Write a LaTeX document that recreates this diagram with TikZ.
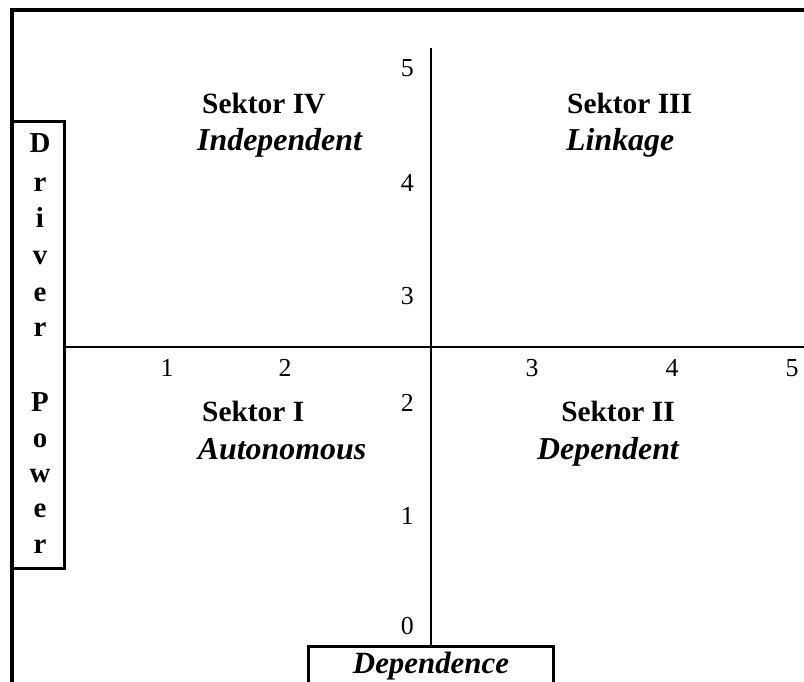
\documentclass[tikz,border=0pt]{standalone}
\usepackage{fontspec}
\setmainfont{Liberation Serif}
\begin{document}
\begin{tikzpicture}[x=1bp,y=-1bp,
  frame/.style={line width=3.5bp},
  axis/.style={line width=2bp},
  lab/.style={font=\fontsize{29.5}{34}\selectfont\bfseries, inner sep=0pt},
  ilab/.style={font=\fontsize{32}{36}\selectfont\bfseries\itshape, inner sep=0pt},
  num/.style={font=\fontsize{26}{30}\selectfont, inner sep=0pt},
  vl/.style={font=\fontsize{29}{30}\selectfont\bfseries, inner sep=0pt, anchor=base}
]
\useasboundingbox (0,0) rectangle (804,682);
\clip (0,0) rectangle (804,682);
% outer frame
\coordinate (ftl) at (12,10);
\coordinate (ftr) at (810,10);
\coordinate (fbl) at (12,690);
\draw[frame] (ftr) -- (ftl) -- (fbl);
% boxes
\node[draw, line width=3bp, minimum width=52bp, minimum height=446bp, inner sep=0pt] (dp) at (38,345) {};
\node[draw, line width=3bp, minimum width=245bp, minimum height=60bp, inner sep=0pt] (dep) at (430.5,676) {};
\node[ilab, anchor=base, font=\fontsize{31}{36}\selectfont\bfseries\itshape] (deptext) at (431,673.5) {Dependence};
% axes
\coordinate (vtop) at (431,48);
\coordinate (hright) at (810,347);
\draw[axis] (vtop) -- (dep.north -| vtop);
\draw[axis] (dp.east |- hright) -- (hright);
% vertical numbers
\node[num, anchor=base east] (y5) at (414,77) {5};
\node[num, anchor=base east] (y4) at (414,191) {4};
\node[num, anchor=base east] (y3) at (414,304) {3};
\node[num, anchor=base east] (y2) at (414,411) {2};
\node[num, anchor=base east] (y1) at (414,524) {1};
\node[num, anchor=base east] (y0) at (414,634) {0};
% horizontal numbers
\node[num, anchor=base] (x1) at (167,376) {1};
\node[num, anchor=base] (x2) at (285,376) {2};
\node[num, anchor=base] (x3) at (532,376) {3};
\node[num, anchor=base] (x4) at (672,376) {4};
\node[num, anchor=base] (x5) at (792,376) {5};
% sectors
\node[lab, anchor=base west] (s4) at (202,114) {Sektor IV};
\node[ilab, anchor=base west] (s4b) at (197,151) {Independent};
\node[lab, anchor=base west] (s3) at (567,114) {Sektor III};
\node[ilab, anchor=base west] (s3b) at (566,151) {Linkage};
\node[lab, anchor=base west] (s1) at (202,421) {Sektor I};
\node[ilab, anchor=base] (s1b) at (282,459) {Autonomous};
\node[lab, anchor=base] (s2) at (618,421) {Sektor II};
\node[ilab, anchor=base] (s2b) at (608,459) {Dependent};
% Driver Power letters
\node[vl] (d1) at (40,153) {D};
\node[vl] (d2) at (40,191) {r};
\node[vl] (d3) at (40,227) {i};
\node[vl] (d4) at (40,264) {v};
\node[vl] (d5) at (40,301) {e};
\node[vl] (d6) at (40,336) {r};
\node[vl] (p1) at (40,411) {P};
\node[vl] (p2) at (40,447) {o};
\node[vl] (p3) at (40,482) {w};
\node[vl] (p4) at (40,517) {e};
\node[vl] (p5) at (40,553) {r};
\end{tikzpicture}
\end{document}
